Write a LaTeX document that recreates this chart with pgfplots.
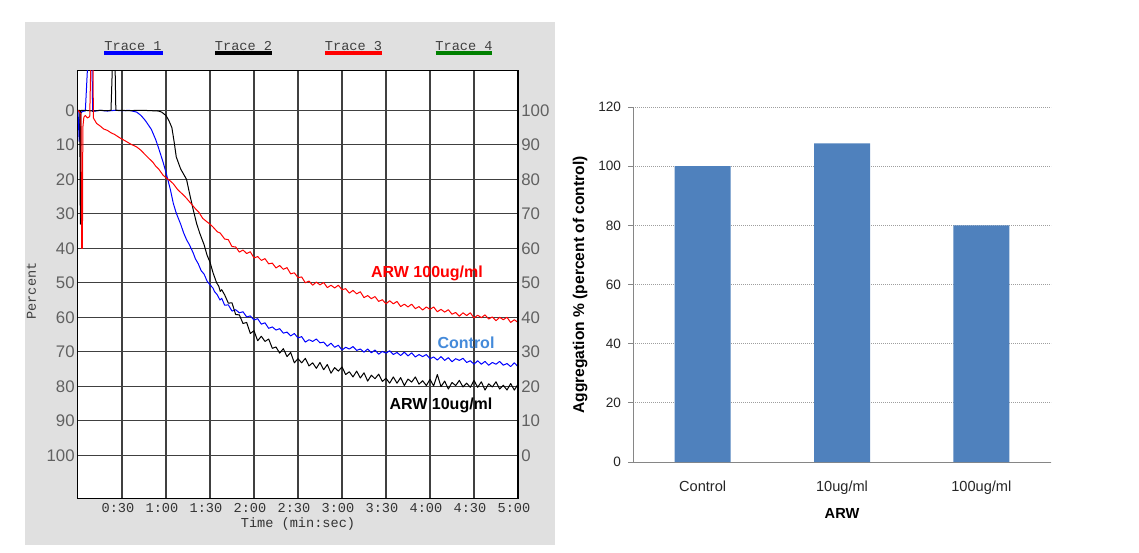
\documentclass[border=0pt]{standalone}
\usepackage{fontspec}
\setmainfont{Liberation Sans}
\newfontfamily\mono{Liberation Mono}
\usepackage{pgfplots}
\pgfplotsset{compat=1.18}

\definecolor{bggray}{RGB}{224,224,224}
\definecolor{tblue}{RGB}{0,0,255}
\definecolor{tred}{RGB}{255,0,0}
\definecolor{tgreen}{RGB}{0,128,0}
\definecolor{ctrltext}{RGB}{68,138,218}
\definecolor{barblue}{RGB}{79,129,189}
\definecolor{axgray}{RGB}{134,134,134}

% trace data: time (s), percent
\pgfplotstableread{
t p
0 0
0.8 9
1.5 1
3 0.3
5 0.2
6.8 -15
9.5 -15
10 0.3
15 0
20 0.2
25 0
30 0.1
35 0
40 0.5
43 1.5
46 3
50 5.5
53 8.5
55 11
58 15
60 18
63 23
65 27
67 29.8
70 33
72 35.5
74 37.5
76 39
78.6 41.4
80 43
82 44.5
84 46.5
86 47.5
88 49.5
90 50.6
92 51.5
93 52.5
95 53.5
96.8 55
98 54.5
100 56.5
102.5 56.4
105 58.2
107.5 57.8
110 58.7
112.5 58.4
115 59.9
117.5 59.6
120 60.8
122.5 60.4
125 62.0
127.5 61.6
130 63.2
132.5 62.8
135 63.7
137.5 63.3
140 64.6
142.5 64.3
145 65.4
147.5 64.7
150 66.0
152.5 65.6
155 67.2
157.5 66.5
160 67.0
162.5 66.3
165 67.4
167.5 67.2
170 68.4
172.5 67.5
175 68.7
177.5 68.1
180 69.5
182.5 68.7
185 69.2
187.5 68.5
190 69.6
192.5 69.2
195 70.1
197.5 69.2
200 70.3
202.5 69.5
205 70.7
207.5 69.9
210 70.4
212.5 69.7
215 70.8
217.5 70.2
220 71.1
222.5 70.1
225 71.2
227.5 70.3
230 71.5
232.5 70.8
235 71.4
237.5 70.8
240 72.0
242.5 71.5
245 72.4
247.5 71.4
250 72.5
252.5 71.7
255 72.9
257.5 72.0
260 72.5
262.5 71.9
265 73.1
267.5 72.6
270 73.6
272.5 72.6
275 73.6
277.5 72.8
280 73.9
282.5 73.1
285 73.6
287.5 72.8
290 73.9
292.5 73.4
295 74.3
297.5 73.2
300 74.3
}\traceone

\pgfplotstableread{
t p
0 0
1.2 0
1.6 33
2.0 0
5 0
10 0.2
15 0
20 0.1
22.5 0
23.6 -15
25.2 -15
25.8 0
30 0
35 0.1
40 0
45 0
50 0.1
55 0.2
57 0.5
60 1.5
62 3
64 5
65.5 9
67 13.5
70 17
72 18.5
74 20
76 24
78.6 28.9
81 33
83 35.6
86 39
88 42
90 44
92 47
94.5 50
96 51
97 52.5
98 52
100 53.5
102.5 55.9
105 55.8
107.5 59.2
110 59.3
112.5 61.8
115 61.5
117.5 64.7
120 63.9
122.5 66.8
125 65.5
127.5 67.0
130 66.3
132.5 69.0
135 68.6
137.5 70.4
140 69.1
142.5 71.4
145 70.2
147.5 73.2
150 72.0
152.5 73.2
155 71.9
157.5 74.1
160 73.2
162.5 74.8
165 73.1
167.5 75.2
170 73.7
172.5 76.2
175 74.6
177.5 75.6
180 74.4
182.5 76.6
185 75.8
187.5 77.3
190 75.6
192.5 77.6
195 76.1
197.5 78.5
200 76.8
202.5 77.8
205 76.5
207.5 78.6
210 77.7
212.5 79.1
215 77.3
217.5 79.1
220 77.5
222.5 79.8
225 77.9
227.5 78.8
230 77.3
232.5 79.4
235 78.4
237.5 79.8
240 78.0
242.5 79.9
245 76.6
247.5 80.1
250 78.5
252.5 80.8
255 78.9
257.5 79.8
260 78.3
262.5 80.2
265 79.1
267.5 80.3
270 78.3
272.5 80.3
275 78.7
277.5 81.1
280 79.3
282.5 80.2
285 78.7
287.5 80.8
290 79.7
292.5 81.1
295 79.2
297.5 81.1
300 79.4
}\tracetwo

\pgfplotstableread{
t p
0 0
1 0.5
2 1
2.5 40
3 40
3.3 5
4 2
5 1.5
6.5 2.2
8 1.8
8.8 -15
10.2 -15
10.5 2.2
12.7 3.8
15 4.5
17.5 5.4
20 5.8
22.5 6.5
25 7
28.6 8
32 8.8
36 9.8
40 10.6
43 11.6
45 12.5
48 13.8
51 15
53 16.2
55 17
58 18.8
60.5 19.7
63 20.5
65 21.3
68 23
70 23.8
72 24.6
74 25.5
77 27
80 28.5
82.5 29.6
85 31.3
87 32
90 33
92 33.8
95 35.2
97 35.6
100 37.3
102.5 37.5
105 39.5
107.5 39.6
110 41.1
112.5 40.5
115 41.5
117.5 41.0
120 42.8
122.5 42.4
125 43.5
127.5 43.0
130 44.5
132.5 44.3
135 45.7
137.5 45.0
140 46.1
142.5 45.6
145 47.4
147.5 47.1
150 48.5
152.5 48.3
155 50.0
157.5 49.5
160 50.7
162.5 49.8
165 50.6
167.5 49.9
170 51.4
172.5 50.7
175 51.5
177.5 50.7
180 52.0
182.5 51.7
185 53.0
187.5 52.2
190 53.2
192.5 52.6
195 54.3
197.5 53.7
200 54.6
202.5 54.0
205 55.4
207.5 54.9
210 56.1
212.5 55.2
215 56.1
217.5 55.4
220 56.9
222.5 56.2
225 57.0
227.5 56.2
230 57.5
232.5 56.9
235 57.9
237.5 57.0
240 57.7
242.5 57.0
245 58.4
247.5 57.7
250 58.5
252.5 57.8
255 59.1
257.5 58.6
260 59.7
262.5 58.7
265 59.5
267.5 58.7
270 60.2
272.5 59.4
275 60.1
277.5 59.3
280 60.5
282.5 59.9
285 61.0
287.5 60.0
290 60.7
292.5 60.0
295 61.5
297.5 60.7
300 61.5
}\tracethree

\begin{document}
\begin{tikzpicture}
\path[use as bounding box] (0,0) rectangle (569.5pt,276pt);
\fill[bggray] (12.5pt,3.5pt) rectangle (277.5pt,265pt);

% ---- aggregometer traces ----
\begin{axis}[
    at={(39pt,27pt)}, anchor=south west,
    scale only axis, width=220pt, height=214pt,
    xmin=0, xmax=300, ymin=-11.7, ymax=112.4, y dir=reverse,
    axis background/.style={fill=white},
    xtick={30,60,...,300},
    xticklabels={0:30,1:00,1:30,2:00,2:30,3:00,3:30,4:00,4:30,5:00},
    ytick={0,10,...,100},
    grid=major, grid style={black!75, line width=0.6pt},
    major tick length=0pt,
    axis line style={black, line width=0.5pt},
    /pgf/number format/assume math mode=true,
    xticklabel style={font=\mono\fontsize{6.8}{8}\selectfont, text=black!80, inner sep=0pt, anchor=north, yshift=-2.5pt, xshift=-2pt},
    yticklabel style={font=\fontsize{8.4}{9}\selectfont, text=black!62, inner sep=0pt, anchor=east, xshift=-1.5pt},
    every axis plot/.style={line width=0.5pt, line join=round},
]
\addplot[tblue] table[x=t, y=p] {\traceone};
\addplot[black] table[x=t, y=p] {\tracetwo};
\addplot[tred] table[x=t, y=p] {\tracethree};
\end{axis}

% right-hand scale (100 - percent)
\begin{axis}[
    at={(39pt,27pt)}, anchor=south west,
    scale only axis, width=220pt, height=214pt,
    xmin=0, xmax=300, ymin=-12.4, ymax=111.7,
    hide x axis, axis y line*=right,
    y axis line style={draw=none},
    ytick={0,10,...,100}, major tick length=0pt,
    /pgf/number format/assume math mode=true,
    yticklabel style={font=\fontsize{8.4}{9}\selectfont, text=black!62, inner sep=0pt, anchor=west, xshift=1.5pt},
]
\end{axis}
\draw[black, line width=1pt] (259pt,27pt) -- (259pt,241pt);

\node[font=\mono\fontsize{6.8}{8}\selectfont, text=black!75, rotate=90] at (15.75pt,130.5pt) {Percent};
\node[font=\mono\fontsize{6.8}{8}\selectfont, text=black!80] at (149pt,14pt) {Time (min:sec)};

\node[font=\mono\fontsize{6.8}{8}\selectfont, text=black!75] at (66.5pt,253pt) {Trace 1};
\draw[tblue, line width=1.8pt] (52pt,249.5pt) -- (81.5pt,249.5pt);
\node[font=\mono\fontsize{6.8}{8}\selectfont, text=black!75] at (121.75pt,253pt) {Trace 2};
\draw[black, line width=1.8pt] (107.5pt,249.5pt) -- (136pt,249.5pt);
\node[font=\mono\fontsize{6.8}{8}\selectfont, text=black!75] at (176.75pt,253pt) {Trace 3};
\draw[tred, line width=1.8pt] (162.5pt,249.5pt) -- (191pt,249.5pt);
\node[font=\mono\fontsize{6.8}{8}\selectfont, text=black!75] at (232pt,253pt) {Trace 4};
\draw[tgreen, line width=1.8pt] (217.75pt,249.5pt) -- (246pt,249.5pt);

\node[font=\bfseries\fontsize{8}{9}\selectfont, text=tred] at (213.5pt,139.5pt) {ARW 100ug/ml};
\node[font=\bfseries\fontsize{8}{9}\selectfont, text=ctrltext] at (233pt,104.5pt) {Control};
\node[font=\bfseries\fontsize{8}{9}\selectfont, text=black] at (220.5pt,73.5pt) {ARW 10ug/ml};

% ---- bar chart ----
\begin{axis}[
    at={(316.5pt,45pt)}, anchor=south west,
    scale only axis, width=209pt, height=177.5pt,
    xmin=-0.5, xmax=2.5, ymin=0, ymax=120,
    ybar, bar width=28pt,
    xtick={0,1,2}, xticklabels={Control,10ug/ml,100ug/ml},
    ytick={0,20,...,120},
    axis x line*=bottom, axis y line*=left,
    axis line style={-, draw=axgray, line width=0.5pt},
    ymajorgrids, grid style={axgray!80, line width=0.4pt, dash pattern=on 0.6pt off 0.4pt},
    tick align=outside, major tick length=2.5pt,
    ytick style={draw=axgray, line width=0.4pt}, xtick style={draw=none},
    /pgf/number format/assume math mode=true,
    yticklabel style={font=\fontsize{6.8}{8}\selectfont, text=black!85},
    xticklabel style={font=\fontsize{7.3}{8}\selectfont, text=black!85, inner sep=0pt, anchor=north, yshift=-7pt},
]
\addplot[fill=barblue, draw=none] coordinates {(0,100) (1,107.7) (2,80)};
\end{axis}

\node[font=\bfseries\fontsize{7.8}{9}\selectfont, rotate=90] at (290pt,133.5pt) {Aggregation \% (percent of control)};
\node[font=\bfseries\fontsize{7.3}{9}\selectfont] at (421pt,19.5pt) {ARW};
\end{tikzpicture}
\end{document}
